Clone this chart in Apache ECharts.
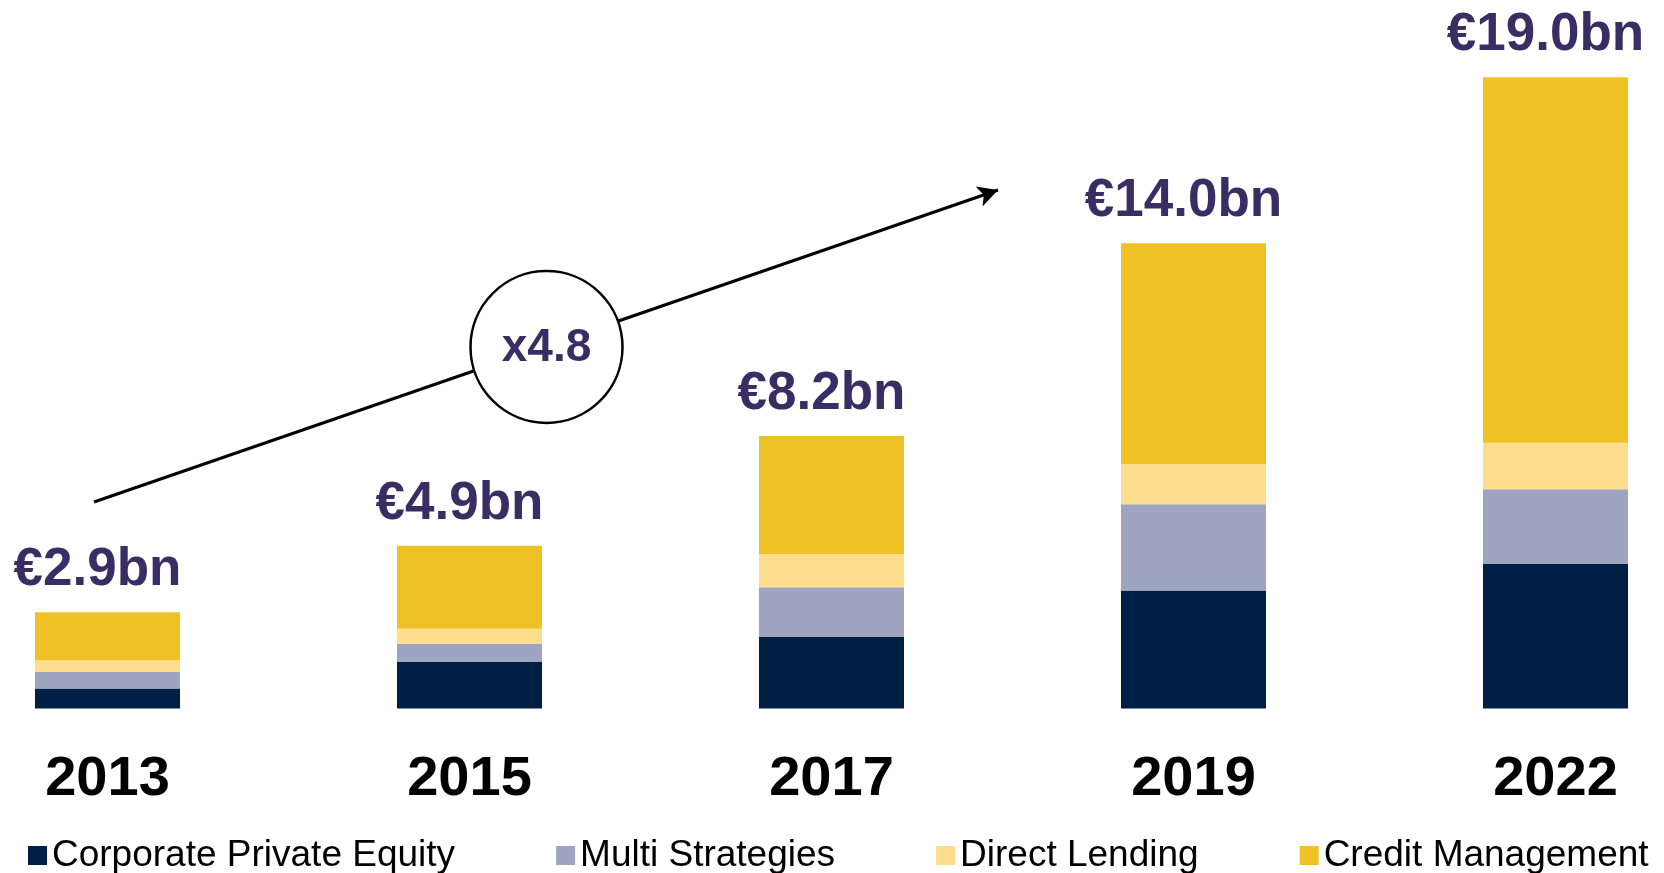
<!DOCTYPE html>
<html>
<head>
<meta charset="utf-8">
<script src="https://cdn.jsdelivr.net/npm/echarts@6/dist/echarts.min.js"></script>
<style>
  html, body { margin: 0; padding: 0; background: #fff; }
  #main { width: 1664px; height: 873px; }
</style>
</head>
<body>
<div id="main"></div>
<script>
// values in € bn
var years = ['2013', '2015', '2017', '2019', '2022'];
var corporatePE = [0.6, 1.4, 2.15, 3.55, 4.35];
var multiStrategies = [0.5, 0.55, 1.5, 2.6, 2.25];
var directLending = [0.35, 0.45, 1.0, 1.2, 1.4];
var creditMgmt = [1.45, 2.5, 3.55, 6.65, 11.0];
var totalLabels = ['€2.9bn', '€4.9bn', '€8.2bn', '€14.0bn', '€19.0bn'];
var growthLabel = 'x4.8';

var FONT = '"Liberation Sans", Arial, sans-serif';
var PURPLE = '#3a2d64';

var chart = echarts.init(document.getElementById('main'));

var option = {
  animation: false,
  grid: { left: 107.5, right: 108.5, top: 44, bottom: 164.5 },
  xAxis: {
    type: 'category',
    data: years,
    boundaryGap: false,
    axisLine: { show: false },
    axisTick: { show: false },
    axisLabel: { fontSize: 56, fontWeight: 'bold', color: '#000', fontFamily: FONT, margin: 43 }
  },
  yAxis: { type: 'value', min: 0, max: 20, show: false },
  legend: {
    left: 23,
    top: 832,
    icon: 'rect',
    itemWidth: 19,
    itemHeight: 19,
    itemGap: 101,
    textStyle: { fontSize: 37, color: '#000', fontFamily: FONT },
    data: ['Corporate Private Equity', 'Multi Strategies', 'Direct Lending', 'Credit Management']
  },
  series: [
    {
      name: 'Corporate Private Equity', type: 'bar', stack: 'aum', barWidth: 145,
      itemStyle: { color: '#001f44' }, data: corporatePE,
      markLine: {
        silent: true,
        symbol: ['none', 'arrow'],
        symbolSize: [16, 20],
        lineStyle: { color: '#000', width: 3, type: 'solid' },
        label: { show: false },
        data: [[{ x: 94, y: 502 }, { x: 998, y: 190 }]]
      }
    },
    { name: 'Multi Strategies', type: 'bar', stack: 'aum', itemStyle: { color: '#9fa4c0' }, data: multiStrategies },
    { name: 'Direct Lending', type: 'bar', stack: 'aum', itemStyle: { color: '#fedd8c' }, data: directLending },
    {
      name: 'Credit Management', type: 'bar', stack: 'aum', itemStyle: { color: '#eec224' }, data: creditMgmt,
      label: {
        show: true, position: 'top', distance: 15, offset: [-10, 0],
        fontSize: 53, fontWeight: 'bold', color: PURPLE, fontFamily: FONT,
        formatter: function (p) { return totalLabels[p.dataIndex]; }
      }
    }
  ],
  graphic: [
    {
      type: 'circle', z: 100,
      shape: { cx: 546.5, cy: 347, r: 76 },
      style: { fill: '#fff', stroke: '#000', lineWidth: 2.5 }
    },
    {
      type: 'text', z: 101, x: 546.5, y: 348,
      style: {
        text: growthLabel, fill: PURPLE, align: 'center', verticalAlign: 'middle',
        fontSize: 46, fontWeight: 'bold', fontFamily: FONT
      }
    }
  ]
};

chart.setOption(option);
</script>
</body>
</html>
